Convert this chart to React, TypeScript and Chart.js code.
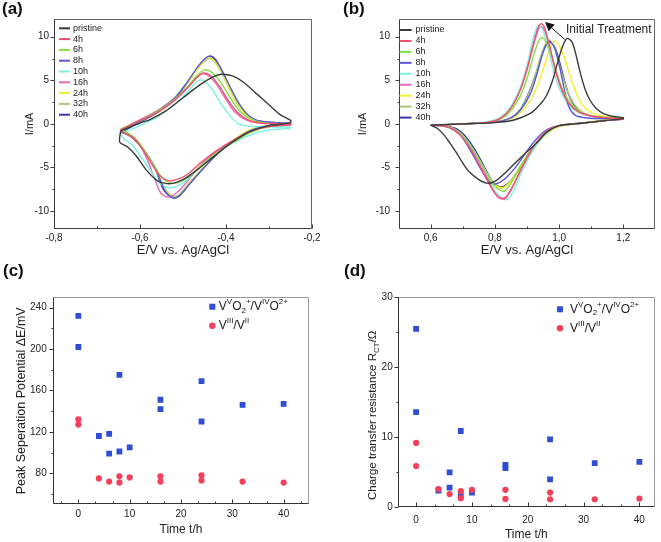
import React, { useEffect, useRef } from "react";
import { Chart, registerables } from "chart.js";

Chart.register(...registerables);
Chart.defaults.font.family = '"Liberation Sans", Arial, Helvetica, sans-serif';
Chart.defaults.color = "#222";

type Pt = [number, number];

// ---------- Panel (a): V(III)/V(II) CVs ----------
const CV_LABELS = ["pristine", "4h", "6h", "8h", "10h", "16h", "24h", "32h", "40h"];
const CV_COLORS = ["#3a3a3a", "#f2506e", "#84e23e", "#5a5ad6", "#7ff0e4", "#e36cbc", "#f2f028", "#a9c97a", "#3838aa"];

const A_PRISTINE: Pt[] = [[-0.645,-0.8],[-0.6,0.1],[-0.577,0.5],[-0.54,1.5],[-0.5,3.0],[-0.46,4.5],[-0.43,5.4],[-0.41,5.7],[-0.385,5.5],[-0.36,4.8],[-0.33,3.5],[-0.3,2.2],[-0.275,1.1],[-0.25,0.4],
  [-0.25,0.15],[-0.3,-0.2],[-0.34,-0.8],[-0.37,-1.6],[-0.4,-2.6],[-0.43,-3.8],[-0.46,-5.0],[-0.49,-6.1],[-0.515,-6.7],[-0.537,-6.85],[-0.56,-6.5],[-0.585,-5.3],[-0.61,-3.6],[-0.63,-2.6],[-0.647,-2.1],[-0.645,-0.8]];
const A_4H: Pt[] = [[-0.645,-0.7],[-0.6,0.4],[-0.56,1.3],[-0.52,2.7],[-0.49,4.1],[-0.47,5.2],[-0.453,5.85],[-0.435,5.5],[-0.415,4.3],[-0.395,2.7],[-0.375,1.4],[-0.35,0.5],[-0.32,0.1],[-0.25,0.0],
  [-0.25,-0.1],[-0.3,-0.3],[-0.34,-0.8],[-0.38,-1.8],[-0.42,-3.0],[-0.46,-4.5],[-0.49,-5.8],[-0.515,-6.4],[-0.535,-6.5],[-0.555,-5.9],[-0.575,-4.4],[-0.595,-2.8],[-0.615,-1.6],[-0.635,-1.1],[-0.645,-0.7]];
const A_6H: Pt[] = [[-0.645,-0.6],[-0.6,0.4],[-0.56,1.4],[-0.52,2.8],[-0.49,4.2],[-0.47,5.4],[-0.45,6.2],[-0.43,5.8],[-0.41,4.6],[-0.39,3.0],[-0.37,1.6],[-0.345,0.6],[-0.31,0.1],[-0.25,0.0],
  [-0.25,-0.1],[-0.3,-0.3],[-0.34,-0.9],[-0.38,-2.0],[-0.42,-3.3],[-0.46,-4.9],[-0.49,-6.2],[-0.51,-6.7],[-0.528,-6.8],[-0.548,-6.2],[-0.57,-4.6],[-0.59,-3.0],[-0.61,-1.7],[-0.63,-1.0],[-0.645,-0.6]];
const A_8H: Pt[] = [[-0.645,-0.9],[-0.6,0.3],[-0.56,1.4],[-0.52,2.9],[-0.49,4.8],[-0.465,6.6],[-0.448,7.5],[-0.436,7.8],[-0.424,7.4],[-0.408,6.0],[-0.388,4.0],[-0.368,2.2],[-0.348,1.0],[-0.32,0.3],[-0.25,0.05],
  [-0.25,0.0],[-0.3,-0.2],[-0.34,-0.7],[-0.37,-1.5],[-0.4,-2.6],[-0.43,-3.9],[-0.46,-5.5],[-0.49,-7.2],[-0.507,-8.2],[-0.52,-8.5],[-0.535,-8.1],[-0.545,-7.4],[-0.565,-5.0],[-0.59,-3.1],[-0.615,-1.7],[-0.635,-1.0],[-0.645,-0.9]];
const A_10H: Pt[] = [[-0.645,-1.1],[-0.6,-0.2],[-0.56,0.8],[-0.52,2.2],[-0.49,3.6],[-0.475,4.5],[-0.462,5.05],[-0.448,4.8],[-0.43,3.8],[-0.41,2.2],[-0.39,0.9],[-0.37,0.0],[-0.34,-0.3],[-0.25,-0.4],
  [-0.25,-0.5],[-0.3,-0.7],[-0.34,-1.2],[-0.38,-2.1],[-0.42,-3.3],[-0.46,-4.9],[-0.49,-6.4],[-0.515,-7.2],[-0.535,-7.3],[-0.555,-6.8],[-0.575,-5.4],[-0.6,-3.6],[-0.62,-2.3],[-0.637,-1.8],[-0.645,-1.1]];
const A_16H: Pt[] = [[-0.645,-0.7],[-0.6,0.5],[-0.56,1.5],[-0.52,2.9],[-0.49,4.2],[-0.47,5.2],[-0.455,5.75],[-0.44,5.5],[-0.42,4.4],[-0.4,2.8],[-0.38,1.4],[-0.355,0.5],[-0.32,0.1],[-0.25,0.0],
  [-0.25,-0.1],[-0.3,-0.3],[-0.34,-0.8],[-0.38,-1.8],[-0.42,-3.1],[-0.46,-4.8],[-0.49,-6.6],[-0.515,-7.9],[-0.535,-8.4],[-0.552,-7.9],[-0.568,-6.0],[-0.585,-3.9],[-0.605,-2.1],[-0.625,-1.2],[-0.645,-0.7]];
const A_24H: Pt[] = [[-0.645,-0.8],[-0.6,0.3],[-0.56,1.4],[-0.52,2.9],[-0.49,4.7],[-0.465,6.4],[-0.45,7.3],[-0.44,7.6],[-0.428,7.3],[-0.41,5.9],[-0.39,3.9],[-0.37,2.1],[-0.35,0.9],[-0.32,0.2],[-0.25,0.0],
  [-0.25,-0.05],[-0.3,-0.2],[-0.34,-0.6],[-0.37,-1.4],[-0.4,-2.5],[-0.43,-3.8],[-0.46,-5.4],[-0.49,-7.1],[-0.505,-8.1],[-0.515,-8.45],[-0.53,-8.2],[-0.545,-7.3],[-0.565,-5.1],[-0.59,-3.1],[-0.615,-1.7],[-0.635,-1.0],[-0.645,-0.8]];
const A_32H: Pt[] = [[-0.645,-0.7],[-0.6,0.4],[-0.56,1.5],[-0.52,3.0],[-0.49,4.8],[-0.465,6.4],[-0.45,7.2],[-0.44,7.5],[-0.428,7.2],[-0.41,5.8],[-0.39,3.8],[-0.37,2.0],[-0.35,0.9],[-0.32,0.2],[-0.25,0.0],
  [-0.25,-0.1],[-0.3,-0.25],[-0.34,-0.7],[-0.37,-1.5],[-0.4,-2.6],[-0.43,-3.9],[-0.46,-5.4],[-0.49,-7.0],[-0.505,-7.9],[-0.517,-8.3],[-0.53,-8.1],[-0.545,-7.2],[-0.565,-5.0],[-0.59,-3.0],[-0.615,-1.6],[-0.635,-0.9],[-0.645,-0.7]];
const A_40H: Pt[] = [[-0.645,-1.0],[-0.6,0.2],[-0.56,1.3],[-0.52,2.8],[-0.49,4.7],[-0.465,6.5],[-0.45,7.4],[-0.44,7.75],[-0.428,7.5],[-0.412,6.2],[-0.392,4.2],[-0.372,2.3],[-0.352,1.0],[-0.32,0.3],[-0.25,0.05],
  [-0.25,0.0],[-0.3,-0.2],[-0.34,-0.7],[-0.37,-1.5],[-0.4,-2.6],[-0.43,-3.9],[-0.46,-5.5],[-0.49,-7.2],[-0.507,-8.2],[-0.52,-8.5],[-0.535,-8.15],[-0.548,-7.3],[-0.566,-5.0],[-0.59,-3.1],[-0.615,-1.7],[-0.635,-1.1],[-0.645,-1.0]];
const A_CURVES = [A_PRISTINE, A_4H, A_6H, A_8H, A_10H, A_16H, A_24H, A_32H, A_40H];

// ---------- Panel (b): VO2+/VO2+ CVs ----------
const B_PRISTINE: Pt[] = [[0.6,-0.15],[0.7,0.0],[0.8,0.15],[0.86,0.45],[0.91,1.2],[0.94,2.2],[0.96,3.2],[0.98,5.0],[0.995,7.0],[1.01,8.8],[1.025,9.8],[1.04,9.4],[1.052,8.0],[1.065,6.0],[1.08,4.1],[1.095,2.8],[1.115,1.8],[1.14,1.15],[1.17,0.85],[1.2,0.7],
  [1.2,0.6],[1.15,0.4],[1.1,0.2],[1.05,0.0],[1.0,-0.2],[0.96,-1.0],[0.93,-2.2],[0.9,-3.2],[0.86,-4.6],[0.83,-5.7],[0.8,-6.6],[0.775,-6.8],[0.75,-6.4],[0.72,-5.5],[0.7,-4.5],[0.68,-3.3],[0.66,-2.2],[0.64,-1.2],[0.62,-0.5],[0.6,-0.15]];
const B_4H: Pt[] = [[0.6,-0.15],[0.7,0.0],[0.78,0.2],[0.82,0.7],[0.85,1.8],[0.88,4.0],[0.9,6.3],[0.92,9.2],[0.935,11.1],[0.945,11.5],[0.955,11.0],[0.97,9.0],[0.99,6.0],[1.01,3.8],[1.03,2.4],[1.06,1.4],[1.1,0.9],[1.15,0.7],[1.2,0.6],
  [1.2,0.55],[1.15,0.4],[1.1,0.2],[1.05,0.0],[1.0,-0.2],[0.97,-0.6],[0.94,-1.6],[0.91,-3.2],[0.88,-5.3],[0.85,-7.6],[0.83,-8.6],[0.81,-8.4],[0.79,-7.4],[0.76,-5.3],[0.73,-3.2],[0.7,-1.6],[0.67,-0.6],[0.63,-0.2],[0.6,-0.15]];
const B_6H: Pt[] = [[0.6,-0.15],[0.7,0.0],[0.78,0.2],[0.82,0.6],[0.85,1.5],[0.88,3.3],[0.9,5.2],[0.92,7.8],[0.935,9.4],[0.945,9.9],[0.958,9.5],[0.975,8.0],[0.995,5.6],[1.015,3.6],[1.04,2.2],[1.07,1.3],[1.1,0.9],[1.15,0.75],[1.2,0.65],
  [1.2,0.6],[1.15,0.45],[1.1,0.2],[1.05,0.0],[1.0,-0.25],[0.97,-0.7],[0.94,-1.7],[0.91,-3.1],[0.88,-4.9],[0.85,-6.8],[0.83,-7.7],[0.81,-7.5],[0.79,-6.7],[0.765,-5.0],[0.735,-3.1],[0.705,-1.6],[0.675,-0.6],[0.635,-0.2],[0.6,-0.15]];
const B_8H: Pt[] = [[0.6,-0.15],[0.7,0.0],[0.8,0.2],[0.85,0.7],[0.88,1.6],[0.91,3.4],[0.93,5.6],[0.95,8.2],[0.968,9.5],[0.985,8.8],[1.0,6.8],[1.015,4.2],[1.03,2.0],[1.05,1.0],[1.08,0.7],[1.12,0.6],[1.2,0.6],
  [1.2,0.55],[1.15,0.4],[1.1,0.2],[1.05,0.05],[1.0,-0.2],[0.96,-0.7],[0.93,-1.7],[0.9,-3.1],[0.87,-4.7],[0.84,-6.0],[0.815,-6.7],[0.795,-6.9],[0.775,-6.3],[0.75,-4.8],[0.72,-2.8],[0.69,-1.2],[0.66,-0.45],[0.63,-0.2],[0.6,-0.15]];
const B_10H: Pt[] = [[0.6,-0.15],[0.7,0.0],[0.78,0.25],[0.82,0.8],[0.85,2.0],[0.88,4.3],[0.9,6.7],[0.915,9.2],[0.93,11.0],[0.937,11.3],[0.95,10.7],[0.965,8.8],[0.985,5.8],[1.005,3.7],[1.03,2.2],[1.06,1.3],[1.1,0.9],[1.15,0.7],[1.2,0.6],
  [1.2,0.55],[1.15,0.4],[1.1,0.2],[1.05,0.0],[1.0,-0.25],[0.97,-0.8],[0.94,-1.9],[0.91,-3.6],[0.88,-5.8],[0.855,-7.9],[0.835,-8.7],[0.815,-8.4],[0.795,-7.3],[0.77,-5.4],[0.74,-3.4],[0.71,-1.8],[0.68,-0.8],[0.64,-0.25],[0.6,-0.15]];
const B_16H: Pt[] = [[0.6,-0.15],[0.7,0.0],[0.78,0.2],[0.82,0.7],[0.85,1.8],[0.88,4.0],[0.9,6.2],[0.92,9.0],[0.935,10.8],[0.943,11.2],[0.955,10.7],[0.97,8.8],[0.99,5.9],[1.01,3.7],[1.03,2.3],[1.06,1.4],[1.1,0.9],[1.15,0.7],[1.2,0.6],
  [1.2,0.55],[1.15,0.4],[1.1,0.2],[1.05,0.0],[1.0,-0.2],[0.97,-0.65],[0.94,-1.7],[0.91,-3.3],[0.88,-5.4],[0.85,-7.5],[0.83,-8.5],[0.81,-8.2],[0.79,-7.2],[0.765,-5.3],[0.735,-3.2],[0.705,-1.6],[0.675,-0.6],[0.635,-0.2],[0.6,-0.15]];
const B_24H: Pt[] = [[0.6,-0.15],[0.7,0.0],[0.8,0.2],[0.85,0.6],[0.88,1.3],[0.91,2.7],[0.935,4.6],[0.955,6.8],[0.972,8.7],[0.985,9.5],[1.0,9.0],[1.02,7.2],[1.04,4.9],[1.06,3.0],[1.085,1.7],[1.12,1.0],[1.16,0.8],[1.2,0.7],
  [1.2,0.6],[1.15,0.45],[1.1,0.25],[1.05,0.0],[1.0,-0.3],[0.97,-0.9],[0.94,-1.9],[0.91,-3.3],[0.88,-5.0],[0.85,-6.6],[0.825,-7.3],[0.8,-7.0],[0.78,-6.0],[0.755,-4.4],[0.725,-2.7],[0.695,-1.3],[0.665,-0.5],[0.63,-0.2],[0.6,-0.15]];
const B_32H: Pt[] = [[0.6,-0.15],[0.7,0.0],[0.8,0.2],[0.85,0.7],[0.88,1.7],[0.905,3.4],[0.925,5.5],[0.945,8.0],[0.965,9.6],[0.98,9.2],[0.995,7.6],[1.015,5.0],[1.035,3.0],[1.06,1.7],[1.09,1.0],[1.13,0.75],[1.2,0.65],
  [1.2,0.6],[1.15,0.45],[1.1,0.2],[1.05,0.0],[1.0,-0.25],[0.97,-0.75],[0.94,-1.7],[0.91,-3.1],[0.88,-4.8],[0.85,-6.5],[0.825,-7.35],[0.805,-7.2],[0.785,-6.3],[0.76,-4.7],[0.73,-2.9],[0.7,-1.4],[0.67,-0.55],[0.635,-0.2],[0.6,-0.15]];
const B_40H: Pt[] = [[0.6,-0.15],[0.7,0.0],[0.8,0.2],[0.85,0.7],[0.88,1.7],[0.905,3.5],[0.93,6.0],[0.95,8.3],[0.968,9.4],[0.985,8.9],[1.0,7.3],[1.018,4.8],[1.035,2.9],[1.06,1.6],[1.09,1.0],[1.13,0.7],[1.2,0.6],
  [1.2,0.55],[1.15,0.4],[1.1,0.2],[1.05,0.0],[1.0,-0.25],[0.97,-0.75],[0.94,-1.8],[0.91,-3.3],[0.88,-5.0],[0.85,-6.5],[0.83,-7.1],[0.812,-7.2],[0.792,-6.6],[0.768,-5.0],[0.74,-3.1],[0.71,-1.5],[0.68,-0.55],[0.64,-0.2],[0.6,-0.15]];
const B_CURVES = [B_PRISTINE, B_4H, B_6H, B_8H, B_10H, B_16H, B_24H, B_32H, B_40H];

const B_ARROW_FROM: Pt = [1.018, 9.68];
const B_ARROW_TO: Pt = [0.956, 11.7];
const B_NOTE_AT: Pt = [1.0215, 10.83];
const B_NOTE_TEXT = "Initial Treatment";

const CV_Y_TICKS = [-10, -5, 0, 5, 10];
const CV_Y_MINOR = [-7.5, -2.5, 2.5, 7.5];
const A_X_TICKS = [-0.8, -0.6, -0.4, -0.2];
const A_X_MINOR = [-0.7, -0.5, -0.3];
const B_X_TICKS = [0.6, 0.8, 1.0, 1.2];
const B_X_MINOR = [0.7, 0.9, 1.1];

// ---------- Panels (c) and (d): scatter ----------
const TIMES_VO = [0, 0, 4, 6, 6, 8, 8, 10, 16, 16, 24, 24, 32, 40];
const TIMES_V = [0, 0, 4, 6, 8, 8, 10, 16, 16, 24, 24, 32, 40];
const C_DE_VO = [232, 202, 116, 118, 99, 175, 101, 105, 151, 142, 169, 130, 146, 147];
const C_DE_V = [132, 127, 75, 72, 77, 71, 76, 77, 72, 78, 73, 72, 71];
const D_RCT_VO = [25.5, 13.6, 2.4, 5.0, 2.8, 10.9, 1.75, 2.1, 6.05, 5.6, 9.7, 4.0, 6.3, 6.5];
const D_RCT_V = [9.2, 5.9, 2.6, 1.9, 2.3, 1.3, 2.5, 2.5, 1.2, 2.1, 1.15, 1.15, 1.25];

const TIME_TICKS = [0, 10, 20, 30, 40];
const TIME_MINOR = [-3.33, 3.33, 6.67, 13.33, 16.67, 23.33, 26.67, 33.33, 36.67, 43.33];
const C_Y_TICKS = [80, 120, 160, 200, 240];
const C_Y_MINOR = [60, 100, 140, 180, 220];
const D_Y_TICKS = [0, 10, 20, 30];
const D_Y_MINOR = [5, 15, 25];

type Part = [string, "n" | "sup" | "sub"];
const LEG_VO: Part[] = [["V", "n"], ["V", "sup"], ["O", "n"], ["2", "sub"], ["+", "sup"], ["/", "n"], ["V", "n"], ["IV", "sup"], ["O", "n"], ["2+", "sup"]];
const LEG_V: Part[] = [["V", "n"], ["III", "sup"], ["/", "n"], ["V", "n"], ["II", "sup"]];
const D_Y_TITLE: Part[] = [["Charge transfer resistance R", "n"], ["CT", "sub"], ["/Ω", "n"]];

const BLUE = "#2e4ed6";
const RED = "#f2405c";
const FONT = '"Liberation Sans", Arial, Helvetica, sans-serif';

// ---------- plugins ----------
function richWidth(ctx: CanvasRenderingContext2D, parts: Part[], base: number, small: number) {
  let w = 0;
  for (const [t, k] of parts) {
    ctx.font = `${k === "n" ? base : small}px ${FONT}`;
    w += ctx.measureText(t).width;
  }
  return w;
}
function drawRich(ctx: CanvasRenderingContext2D, x: number, y: number, parts: Part[], base: number, small: number) {
  let cx = x;
  ctx.textAlign = "left";
  ctx.textBaseline = "middle";
  for (const [t, k] of parts) {
    const size = k === "n" ? base : small;
    ctx.font = `${size}px ${FONT}`;
    const dy = k === "sup" ? -base * 0.38 : k === "sub" ? base * 0.3 : 0;
    ctx.fillText(t, cx, y + dy);
    cx += ctx.measureText(t).width;
  }
}

const framePlugin = {
  id: "frame",
  afterDraw(chart: any, _a: any, o: any) {
    const { ctx, chartArea: ca, scales } = chart;
    const xs = scales.x, ys = scales.y;
    const L = Math.round(ca.left) + 0.5, R = Math.round(ca.right) - 0.5;
    const T = Math.round(ca.top) + 0.5, B = Math.round(ca.bottom) - 0.5;
    ctx.save();
    ctx.lineWidth = 1;
    ctx.strokeStyle = o.light;
    ctx.beginPath(); ctx.moveTo(L, T); ctx.lineTo(R, T); ctx.lineTo(R, B); ctx.stroke();
    ctx.strokeStyle = o.dark;
    ctx.beginPath(); ctx.moveTo(L, T); ctx.lineTo(L, B); ctx.lineTo(R, B); ctx.stroke();
    const xt = (vals: number[], len: number) => {
      for (const v of vals) {
        const px = Math.round(xs.getPixelForValue(v)) + 0.5;
        if (px < ca.left - 1 || px > ca.right + 1) continue;
        ctx.beginPath(); ctx.moveTo(px, B); ctx.lineTo(px, B - len); ctx.stroke();
      }
    };
    const yt = (vals: number[], len: number) => {
      for (const v of vals) {
        const py = Math.round(ys.getPixelForValue(v)) + 0.5;
        if (py < ca.top - 1 || py > ca.bottom + 1) continue;
        ctx.beginPath(); ctx.moveTo(L, py); ctx.lineTo(L - len, py); ctx.stroke();
      }
    };
    xt(o.xMajor, 4); xt(o.xMinor, 2);
    yt(o.yMajor, 4); yt(o.yMinor, 2);
    ctx.restore();
  },
};

const cvLegendPlugin = {
  id: "cvLegend",
  afterDraw(chart: any, _a: any, o: any) {
    if (!o || !o.show) return;
    const { ctx, chartArea: ca } = chart;
    ctx.save();
    ctx.font = `9px ${FONT}`;
    ctx.textBaseline = "middle";
    ctx.textAlign = "left";
    chart.data.datasets.forEach((ds: any, i: number) => {
      const y = ca.top + o.dy + i * o.step;
      ctx.strokeStyle = ds.borderColor;
      ctx.lineWidth = 2;
      ctx.beginPath(); ctx.moveTo(ca.left + o.x0, y); ctx.lineTo(ca.left + o.x1, y); ctx.stroke();
      ctx.fillStyle = "#222";
      ctx.fillText(ds.label, ca.left + o.tx, y);
    });
    ctx.restore();
  },
};

const notePlugin = {
  id: "note",
  afterDatasetsDraw(chart: any, _a: any, o: any) {
    if (!o || !o.show) return;
    const { ctx, scales } = chart;
    const xs = scales.x, ys = scales.y;
    const x1 = xs.getPixelForValue(o.from[0]), y1 = ys.getPixelForValue(o.from[1]);
    const x2 = xs.getPixelForValue(o.to[0]), y2 = ys.getPixelForValue(o.to[1]);
    const ang = Math.atan2(y2 - y1, x2 - x1);
    const hl = 9, hw = 4.5;
    const bx = x2 - hl * Math.cos(ang), by = y2 - hl * Math.sin(ang);
    ctx.save();
    ctx.strokeStyle = "#111";
    ctx.fillStyle = "#111";
    ctx.lineWidth = 1;
    ctx.beginPath(); ctx.moveTo(x1, y1); ctx.lineTo(bx, by); ctx.stroke();
    ctx.beginPath();
    ctx.moveTo(x2, y2);
    ctx.lineTo(bx + hw * Math.sin(ang), by - hw * Math.cos(ang));
    ctx.lineTo(bx - hw * Math.sin(ang), by + hw * Math.cos(ang));
    ctx.closePath(); ctx.fill();
    ctx.font = `12px ${FONT}`;
    ctx.textAlign = "left";
    ctx.textBaseline = "middle";
    ctx.fillStyle = "#222";
    ctx.fillText(o.text, xs.getPixelForValue(o.at[0]), ys.getPixelForValue(o.at[1]));
    ctx.restore();
  },
};

const scLegendPlugin = {
  id: "scLegend",
  afterDraw(chart: any, _a: any, o: any) {
    if (!o || !o.show) return;
    const { ctx, chartArea: ca } = chart;
    const mx = ca.right - o.fromRight;
    ctx.save();
    ctx.fillStyle = BLUE;
    ctx.fillRect(mx - 3, ca.top + o.dy1 - 3, 6, 6);
    ctx.fillStyle = RED;
    ctx.beginPath(); ctx.arc(mx, ca.top + o.dy2, 3.2, 0, Math.PI * 2); ctx.fill();
    ctx.fillStyle = "#222";
    drawRich(ctx, mx + o.gap, ca.top + o.dy1, LEG_VO, 12, 8);
    drawRich(ctx, mx + o.gap, ca.top + o.dy2, LEG_V, 12, 8);
    if (o.yTitle) {
      const w = richWidth(ctx, D_Y_TITLE, 11.5, 8);
      ctx.translate(o.yTitle.x, (ca.top + ca.bottom) / 2 + o.yTitle.dy);
      ctx.rotate(-Math.PI / 2);
      drawRich(ctx, -w / 2, 0, D_Y_TITLE, 11.5, 8);
    }
    ctx.restore();
  },
};

const tickVals = (vals: number[]) => (ax: any) => {
  ax.ticks = vals.map((v) => ({ value: v }));
};
const comma = (v: any) => Number(v).toFixed(1).replace(".", ",");

function cvConfig(curves: Pt[][], p: any): any {
  return {
    type: "scatter",
    data: {
      datasets: curves.map((c, i) => ({
        label: CV_LABELS[i],
        data: c.map(([x, y]) => ({ x, y })),
        showLine: true,
        borderColor: CV_COLORS[i],
        backgroundColor: CV_COLORS[i],
        borderWidth: 1.4,
        pointRadius: 0,
        tension: 0.3,
      })),
    },
    options: {
      animation: false,
      responsive: false,
      events: [],
      layout: { padding: p.pad },
      plugins: {
        legend: { display: false },
        tooltip: { enabled: false },
        frame: { dark: "#3c3c3c", light: "#666", xMajor: p.xTicks, xMinor: p.xMinor, yMajor: CV_Y_TICKS, yMinor: CV_Y_MINOR },
        cvLegend: p.legend,
        note: p.note || { show: false },
      },
      scales: {
        x: {
          type: "linear", min: p.xMin, max: p.xMax,
          grid: { display: false, drawTicks: false }, border: { display: false },
          afterBuildTicks: tickVals(p.xTicks),
          afterFit: (s: any) => { s.height = 33.5; },
          ticks: { padding: 4, font: { size: 10 }, color: "#222", callback: comma },
          title: { display: true, text: "E/V vs. Ag/AgCl", font: { size: 13 }, color: "#222", padding: { top: 0, bottom: 4.2 } },
        },
        y: {
          type: "linear", min: -12, max: 12,
          grid: { display: false, drawTicks: false }, border: { display: false },
          afterBuildTicks: tickVals(CV_Y_TICKS),
          afterFit: (s: any) => { s.width = p.yW; },
          ticks: { padding: p.yPad, font: { size: 10 }, color: "#222", callback: (v: any) => String(v) },
          title: { display: true, text: "I/mA", font: { size: 11 }, color: "#222", padding: { top: p.yTitlePad, bottom: 0 } },
        },
      },
    },
    plugins: [framePlugin, cvLegendPlugin, notePlugin],
  };
}

function scConfig(vo: number[], v: number[], p: any): any {
  return {
    type: "scatter",
    data: {
      datasets: [
        { label: "VO", data: TIMES_VO.map((t, i) => ({ x: t, y: vo[i] })), pointStyle: "rect", pointRadius: 4.1, backgroundColor: BLUE, borderColor: BLUE, pointBorderWidth: 0, order: 1 },
        { label: "V", data: TIMES_V.map((t, i) => ({ x: t, y: v[i] })), pointStyle: "circle", pointRadius: 3.1, backgroundColor: RED, borderColor: RED, pointBorderWidth: 0, order: 0 },
      ],
    },
    options: {
      animation: false,
      responsive: false,
      events: [],
      layout: { padding: p.pad },
      plugins: {
        legend: { display: false },
        tooltip: { enabled: false },
        frame: { dark: "#333", light: "#9a9a9a", xMajor: TIME_TICKS, xMinor: TIME_MINOR, yMajor: p.yTicks, yMinor: p.yMinor },
        scLegend: p.legend,
      },
      scales: {
        x: {
          type: "linear", min: p.xMin, max: p.xMax,
          grid: { display: false, drawTicks: false }, border: { display: false },
          afterBuildTicks: tickVals(TIME_TICKS),
          afterFit: (s: any) => { s.height = p.xH; },
          ticks: { padding: p.xPad, font: { size: 10 }, color: "#222", callback: (v: any) => String(v) },
          title: { display: true, text: "Time t/h", font: { size: 12 }, color: "#222", padding: { top: 0, bottom: p.xTitlePad } },
        },
        y: {
          type: "linear", min: p.yMin, max: p.yMax,
          grid: { display: false, drawTicks: false }, border: { display: false },
          afterBuildTicks: tickVals(p.yTicks),
          afterFit: (s: any) => { s.width = p.yW; },
          ticks: { padding: p.yPad, font: { size: 10 }, color: "#222", callback: (v: any) => String(v) },
          title: p.yTitle
            ? { display: true, text: p.yTitle, font: { size: 12.5 }, color: "#222", padding: { top: p.yTitlePad, bottom: 0 } }
            : { display: false },
        },
      },
    },
    plugins: [framePlugin, scLegendPlugin],
  };
}

const labelStyle = (left: number, top: number): React.CSSProperties => ({
  position: "absolute", left, top, font: `bold 17px ${FONT}`, lineHeight: "20px", color: "#111",
});

export default function App() {
  const ra = useRef<HTMLCanvasElement>(null);
  const rb = useRef<HTMLCanvasElement>(null);
  const rc = useRef<HTMLCanvasElement>(null);
  const rd = useRef<HTMLCanvasElement>(null);

  useEffect(() => {
    document.body.style.margin = "0";
    const charts: Chart[] = [];
    charts.push(new Chart(ra.current!, cvConfig(A_CURVES, {
      pad: { left: 0, top: 19.3, right: 18, bottom: 0 },
      xMin: -0.8, xMax: -0.2, xTicks: A_X_TICKS, xMinor: A_X_MINOR,
      yW: 54, yPad: 5, yTitlePad: 23.4,
      legend: { show: true, dy: 9, step: 10.8, x0: 5, x1: 16, tx: 19 },
    })));
    charts.push(new Chart(rb.current!, cvConfig(B_CURVES, {
      pad: { left: 0, top: 19.3, right: 5.6, bottom: 0 },
      xMin: 0.5, xMax: 1.3, xTicks: B_X_TICKS, xMinor: B_X_MINOR,
      yW: 68.6, yPad: 8.5, yTitlePad: 26.7,
      legend: { show: true, dy: 10.7, step: 10.95, x0: 1, x1: 13, tx: 17 },
      note: { show: true, from: B_ARROW_FROM, to: B_ARROW_TO, at: B_NOTE_AT, text: B_NOTE_TEXT },
    })));
    charts.push(new Chart(rc.current!, scConfig(C_DE_VO, C_DE_V, {
      pad: { left: 0, top: 35.3, right: 20.7, bottom: 0 },
      xMin: -5, xMax: 45, xH: 37.7, xPad: 4, xTitlePad: 4.8,
      yMin: 50, yMax: 250, yTicks: C_Y_TICKS, yMinor: C_Y_MINOR, yW: 52.7, yPad: 6,
      yTitle: "Peak Seperation Potential ΔE/mV", yTitlePad: 14.2,
      legend: { show: true, fromRight: 97, dy1: 9.4, dy2: 28.4, gap: 6.5 },
    })));
    charts.push(new Chart(rd.current!, scConfig(D_RCT_VO, D_RCT_V, {
      pad: { left: 0, top: 35.3, right: 6, bottom: 0 },
      xMin: -3.3, xMax: 42.8, xH: 34.7, xPad: 6.5, xTitlePad: 0,
      yMin: 0, yMax: 30, yTicks: D_Y_TICKS, yMinor: D_Y_MINOR, yW: 67.7, yPad: 5,
      yTitle: null,
      legend: { show: true, fromRight: 95, dy1: 12, dy2: 31, gap: 10, yTitle: { x: 43.3, dy: 13 } },
    })));
    return () => charts.forEach((c) => c.destroy());
  }, []);

  return (
    <div style={{ position: "relative", width: 661, height: 542, background: "#fff", overflow: "hidden" }}>
      <canvas ref={ra} width={330} height={262} style={{ position: "absolute", left: 0, top: 0 }} />
      <canvas ref={rb} width={331} height={262} style={{ position: "absolute", left: 330, top: 0 }} />
      <canvas ref={rc} width={330} height={280} style={{ position: "absolute", left: 0, top: 262 }} />
      <canvas ref={rd} width={331} height={280} style={{ position: "absolute", left: 330, top: 262 }} />
      <div style={labelStyle(2, -1)}>(a)</div>
      <div style={labelStyle(343, -1)}>(b)</div>
      <div style={labelStyle(3, 261)}>(c)</div>
      <div style={labelStyle(344, 261)}>(d)</div>
    </div>
  );
}
